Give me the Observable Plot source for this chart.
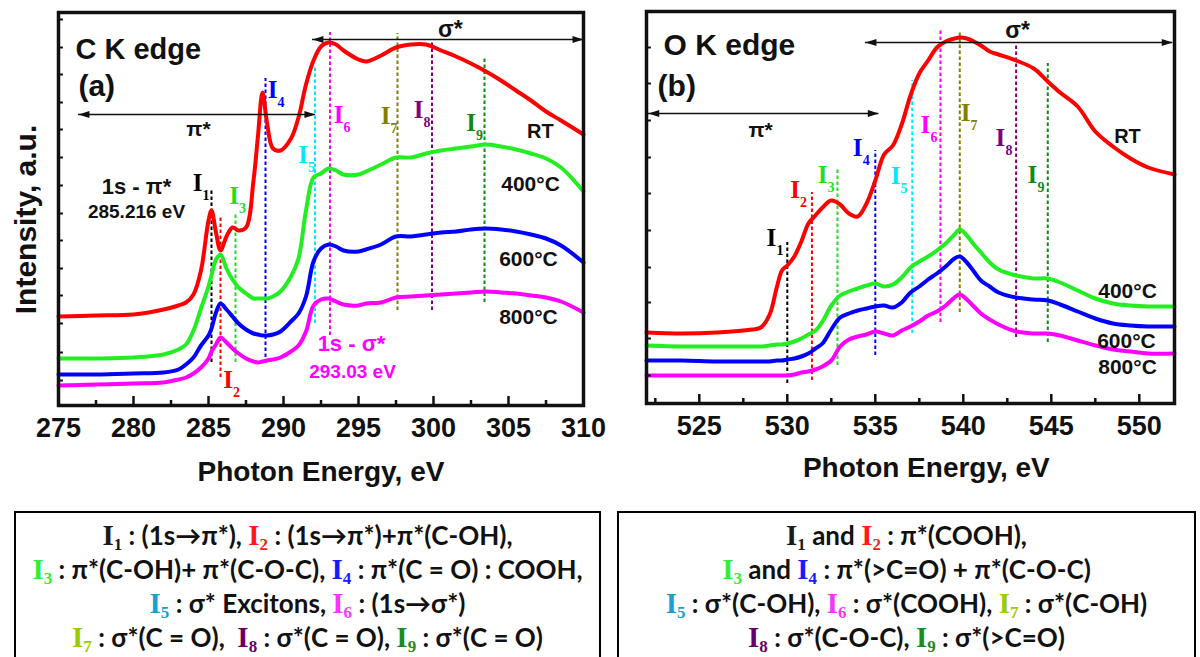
<!DOCTYPE html>
<html>
<head>
<meta charset="utf-8">
<script src="https://cdn.jsdelivr.net/npm/d3@7"></script>
<script src="https://cdn.jsdelivr.net/npm/@observablehq/plot@0.6"></script>
<style>
  body { margin: 0; background: #fff; }
  #fig { position: relative; width: 1200px; height: 657px; overflow: hidden; background: #fff; }
  .panel { position: absolute; top: 0; }
  .box {
    position: absolute; border: 2.5px solid #000; box-sizing: border-box;
    font-family: Lato, "Open Sans", sans-serif; font-weight: 700; font-size: 26px;
    color: #111; text-align: center; padding-top: 5px;
  }
  .box div { height: 34px; line-height: 34px; white-space: pre; }
  .I { font-family: "Liberation Serif", serif; font-weight: 700; font-size: 29px; line-height: 1; }
  .I sub { font-size: 17px; vertical-align: -5px; line-height: 0; }
</style>
</head>
<body>
<div id="fig">
  <div id="panelC" class="panel" style="left:0"></div>
  <div id="panelO" class="panel" style="left:600px"></div>
  <div id="legendC" class="box" style="left:14px;top:511px;width:587px;height:160px"></div>
  <div id="legendO" class="box" style="left:617px;top:511px;width:579px;height:160px"></div>
</div>
<script>
// ---------- C K edge spectra (photon energy, eV / intensity, a.u.) ----------
const cEnergy = [275, 277.5, 280, 282, 283, 283.5, 284, 284.5, 285, 285.2, 285.5, 285.8, 286.2, 286.6, 287, 287.5,
  288, 288.3, 288.6, 288.9, 289.3, 289.8, 290.5, 291, 291.5, 292, 292.5, 293, 293.5, 294, 295, 295.5, 296.5, 297.5,
  298.5, 299.5, 300.5, 301.5, 302.5, 303.5, 304.5, 305.5, 306.5, 307.5, 308.5, 310];
const cRT = [89, 90, 91, 96, 100, 103, 111, 135, 185, 195, 173, 155, 169, 178, 175, 178, 225, 270, 313, 283,
  257, 255, 267, 288, 321, 345, 359, 363, 361, 355, 346, 344, 350, 358, 361, 361, 355, 349, 342, 334, 325, 315, 305, 294, 285, 271];
const c400 = [47, 47, 48, 51, 56, 61, 75, 97, 119, 130, 146, 151, 137, 126, 118, 112, 107, 107, 107, 107,
  109, 114, 129, 147, 195, 228, 232, 237, 235, 231, 231, 234, 241, 248, 248, 252, 255, 257, 259, 261, 259, 256, 252, 247, 238, 214];
const c600 = [31, 31, 32, 33, 36, 41, 48, 60, 70, 77, 93, 102, 96, 89, 82, 76, 72, 71, 70, 70,
  71, 74, 84, 92, 109, 144, 157, 161, 159, 155, 154, 156, 161, 169, 169, 171, 173, 174, 176, 177, 176, 174, 171, 167, 160, 143];
const c800 = [20, 21, 22, 23, 26, 28, 32, 38, 47, 54, 61, 68, 63, 57, 52, 47, 44, 43, 44, 45,
  46, 48, 54, 60, 74, 100, 106, 107, 104, 101, 100, 102, 103, 108, 109, 110, 111, 112, 113, 114, 113, 112, 110, 108, 104, 93];

// ---------- O K edge spectra ----------
const oEnergy = [522, 524, 526, 528, 528.5, 529, 529.4, 529.7, 530, 530.4, 530.8, 531.2, 531.6, 532, 532.5, 533,
  533.5, 534, 534.5, 535, 535.5, 536, 536.5, 537, 537.5, 538, 538.5, 539, 539.5, 539.8, 540.2, 540.6, 541, 541.5,
  542, 543, 544, 544.8, 545.5, 546.5, 547.5, 548.5, 549.5, 550.5, 552];
const oRT = [71, 70, 71, 74, 76, 89, 116, 133, 138, 147, 162, 180, 188, 196, 203, 199, 190, 187, 200, 223,
  249, 258, 279, 308, 330, 343, 356, 362, 365, 366, 365, 362, 358, 352, 349, 343, 335, 322, 311, 297, 272, 257, 245, 236, 229];
const o400 = [58, 57, 57, 57, 57, 58, 59, 59, 60, 62, 65, 69, 73, 82, 98, 108, 112, 115, 118, 120,
  117, 119, 126, 136, 142, 147, 153, 160, 169, 174, 168, 159, 151, 141, 134, 128, 125, 125, 121, 113, 105, 100, 98, 97, 97];
const o600 = [43, 43, 42, 42, 42, 42, 43, 43, 44, 45, 47, 50, 55, 60, 74, 86, 90, 93, 95, 97,
  98, 96, 101, 111, 117, 124, 130, 137, 145, 147, 141, 132, 123, 117, 111, 106, 104, 103, 99, 92, 85, 80, 78, 77, 77];
const o800 = [28, 28, 28, 28, 28, 28, 28, 28, 28, 29, 31, 32, 34, 37, 43, 57, 64, 67, 69, 72,
  70, 68, 73, 77, 82, 88, 92, 98, 106, 109, 104, 97, 90, 84, 79, 72, 70, 70, 68, 63, 58, 54, 52, 50, 50];

const sampleNames = ["RT", "400°C", "600°C", "800°C"];

// ---------- assigned features I1..I9 (energy, and extent of the marker line) ----------
const cPeaks = [285.2, 285.8, 286.8, 288.8, 292.1, 293.1, 297.6, 299.9, 303.4];
const cPeakLo = [43, 28, 43, 42, 82, 70, 95, 95, 103];
const cPeakHi = [217, 188, 192, 327, 340, 373, 372, 365, 348];
const oPeaks = [530.0, 531.4, 532.85, 535.0, 537.1, 538.7, 539.8, 543.0, 544.8];
const oPeakLo = [20, 23, 38, 48, 70, 81, 91, 66, 61];
const oPeakHi = [161, 211, 235, 253, 323, 374, 373, 360, 340];

// axis ticks
const cTicks = [275, 280, 285, 290, 295, 300, 305, 310];
const cMinor = [277.5, 282.5, 287.5, 292.5, 297.5, 302.5, 307.5];
const oTicks = [525, 530, 535, 540, 545, 550];
const oMinor = [522.5, 527.5, 532.5, 537.5, 542.5, 547.5];
const cYTicks = [25, 53, 82, 110, 137, 165, 192, 220, 248, 276, 303, 331, 358, 386];
const oYTicks = [28, 65, 101, 136, 173, 210, 246, 283, 320, 356];

// ---------- styling ----------
const seriesColors = ["#ff0000", "#22ee22", "#0000ff", "#ff00ff"];
const peakColors = ["#000000", "#ff0000", "#1fe01f", "#0000ff", "#00e8ff", "#ff00ff", "#808000", "#800080", "#108a10"];
const legendColors = ["#1a1a1a", "#ff1a1a", "#33ee33", "#1a1aff", "#1a9fd0", "#ff33ff", "#99cc00", "#660066", "#1f8a1f"];
const SANS = "Liberation Sans, Arial, sans-serif";
const SERIF = "Liberation Serif, Times New Roman, serif";

// filled arrowheads with the tip at the anchor point
const headRight = { draw(c) { c.moveTo(0, 0); c.lineTo(-11, -3.5); c.lineTo(-11, 3.5); c.closePath(); } };
const headLeft = { draw(c) { c.moveTo(0, 0); c.lineTo(11, -3.5); c.lineTo(11, 3.5); c.closePath(); } };

function drawPanel(cfg) {
  const marks = [];
  // feature marker lines
  cfg.peaks.forEach((E, i) => {
    marks.push(Plot.ruleX([{E, lo: cfg.lo[i], hi: cfg.hi[i]}],
      {x: "E", y1: "lo", y2: "hi", stroke: peakColors[i], strokeWidth: 2, strokeDasharray: "3.5,2.5"}));
  });
  // spectra
  cfg.series.forEach((values, k) => {
    const rows = cfg.energy.map((E, i) => ({E, v: values[i], sample: sampleNames[k]}));
    marks.push(Plot.line(rows, {x: "E", y: "v", stroke: seriesColors[k], strokeWidth: 4, curve: "catmull-rom"}));
  });
  // inward ticks
  marks.push(Plot.ruleY(cfg.yTicks, {y: d => d, x1: cfg.domain[0], x2: cfg.domain[0] + cfg.yTickLen, strokeWidth: 2}));
  marks.push(Plot.ruleX(cfg.ticks, {x: d => d, y1: 0, y2: 9, strokeWidth: 2.5}));
  marks.push(Plot.ruleX(cfg.minor, {x: d => d, y1: 0, y2: 5, strokeWidth: 2.5}));
  marks.push(Plot.axisX({ticks: cfg.ticks, tickSize: 0, tickPadding: 12, fontSize: 27, fontWeight: "bold", fontFamily: SANS}));
  // range arrows
  cfg.arrows.forEach(a => {
    marks.push(Plot.ruleY([a], {y: "y", x1: "x1", x2: "x2", stroke: "#111", strokeWidth: 1.6}));
    marks.push(Plot.dot([a], {x: "x1", y: "y", symbol: headLeft, fill: "#111", stroke: "none", r: 4}));
    marks.push(Plot.dot([a], {x: "x2", y: "y", symbol: headRight, fill: "#111", stroke: "none", r: 4}));
  });
  // feature labels I with subscript
  cfg.peaks.forEach((E, i) => {
    const d = [{x: cfg.labelE[i], y: cfg.labelV[i]}];
    marks.push(Plot.text(d, {x: "x", y: "y", text: () => "I", fill: peakColors[i], fontFamily: SERIF,
      fontWeight: "bold", fontSize: 25, textAnchor: "middle", lineAnchor: "bottom"}));
    marks.push(Plot.text(d, {x: "x", y: "y", text: () => String(i + 1), fill: peakColors[i], fontFamily: SERIF,
      fontWeight: "bold", fontSize: 14, textAnchor: "start", lineAnchor: "bottom", dx: 5, dy: 9}));
  });
  // other annotations
  cfg.notes.forEach(n => {
    marks.push(Plot.text([n], {x: "x", y: "y", text: "text", fill: n.color || "#111", fontSize: n.size,
      fontFamily: SANS, fontWeight: "bold", textAnchor: n.anchor || "middle", lineAnchor: "bottom",
      rotate: n.rotate || 0}));
  });
  marks.push(Plot.frame({strokeWidth: 3.5}));

  return Plot.plot({
    width: 600, height: 500,
    marginLeft: cfg.margin[0], marginRight: cfg.margin[1], marginTop: cfg.margin[2], marginBottom: cfg.margin[3],
    x: {domain: cfg.domain},
    y: {domain: [0, cfg.yMax], axis: null},
    style: {fontFamily: SANS, fontWeight: "bold", background: "transparent", overflow: "visible", color: "#111"},
    marks
  });
}

document.getElementById("panelC").append(drawPanel({
  energy: cEnergy, series: [cRT, c400, c600, c800],
  peaks: cPeaks, lo: cPeakLo, hi: cPeakHi,
  labelE: [284.27, 286.30, 286.70, 289.27, 291.30, 293.67, 296.80, 299.00, 302.50],
  labelV: [215, 18, 202, 308, 243, 283, 282, 288, 275],
  domain: [275, 310], yMax: 393, margin: [58, 17, 12, 95],
  ticks: cTicks, minor: cMinor, yTicks: cYTicks, yTickLen: 0.33,
  arrows: [{y: 291, x1: 276.33, x2: 292.13}, {y: 366, x1: 291.93, x2: 310}],
  notes: [
    {x: 276.13, y: 347, text: "C K edge", size: 29, anchor: "start"},
    {x: 276.33, y: 310, text: "(a)", size: 30, anchor: "start"},
    {x: 284.33, y: 270, text: "π*", size: 21},
    {x: 301.13, y: 369, text: "σ*", size: 23},
    {x: 307.13, y: 268, text: "RT", size: 20},
    {x: 306.47, y: 215, text: "400°C", size: 21},
    {x: 306.33, y: 140, text: "600°C", size: 21},
    {x: 306.33, y: 82, text: "800°C", size: 21},
    {x: 280.2, y: 212, text: "1s - π*", size: 22},
    {x: 280.2, y: 188, text: "285.216 eV", size: 19},
    {x: 294.53, y: 55, text: "1s - σ*", size: 22, color: "#ff00ff"},
    {x: 294.6, y: 28, text: "293.03 eV", size: 19, color: "#ff00ff"},
    {x: 292.5, y: -75, text: "Photon Energy, eV", size: 28},
    {x: 273.47, y: 186, text: "Intensity, a.u.", size: 30, rotate: -90}
  ]
}));

document.getElementById("panelO").append(drawPanel({
  energy: oEnergy, series: [oRT, o400, o600, o800],
  peaks: oPeaks, lo: oPeakLo, hi: oPeakHi,
  labelE: [529.10, 530.44, 532.0, 534.0, 536.15, 537.85, 540.13, 542.11, 543.93],
  labelV: [158, 206, 221, 248, 220, 271, 283, 258, 221],
  domain: [522, 552], yMax: 392, margin: [46, 26, 11, 97],
  ticks: oTicks, minor: oMinor, yTicks: oYTicks, yTickLen: 0.28,
  arrows: [{y: 290, x1: 522.1, x2: 535.2}, {y: 361, x1: 534.44, x2: 551.9}],
  notes: [
    {x: 522.97, y: 349, text: "O K edge", size: 30, anchor: "start"},
    {x: 522.63, y: 308, text: "(b)", size: 30, anchor: "start"},
    {x: 528.48, y: 267, text: "π*", size: 21},
    {x: 543.08, y: 366, text: "σ*", size: 23},
    {x: 549.33, y: 261, text: "RT", size: 20},
    {x: 549.33, y: 106, text: "400°C", size: 21},
    {x: 549.27, y: 56, text: "600°C", size: 21},
    {x: 549.33, y: 30, text: "800°C", size: 21},
    {x: 537.9, y: -73, text: "Photon Energy, eV", size: 28}
  ]
}));

// ---------- assignment boxes ----------
const legendCLines = [
  [[1], " : (1s→π*), ", [2], " : (1s→π*)+π*(C-OH),"],
  [[3], " : π*(C-OH)+ π*(C-O-C), ", [4], " : π*(C = O) : COOH,"],
  [[5], " : σ* Excitons, ", [6], " : (1s→σ*)"],
  [[7], " : σ*(C = O),  ", [8], " : σ*(C = O), ", [9], " : σ*(C = O)"]
];
const legendOLines = [
  [[1], " and ", [2], " : π*(COOH),"],
  [[3], " and ", [4], " : π*(>C=O) + π*(C-O-C)"],
  [[5], " : σ*(C-OH), ", [6], " : σ*(COOH), ", [7], " : σ*(C-OH)"],
  [[8], " : σ*(C-O-C), ", [9], " : σ*(>C=O)"]
];
function fillLegend(id, lines) {
  const box = document.getElementById(id);
  lines.forEach(parts => {
    const row = document.createElement("div");
    parts.forEach(p => {
      if (Array.isArray(p)) {
        const n = p[0];
        const s = document.createElement("span");
        s.className = "I";
        s.style.color = legendColors[n - 1];
        s.append("I");
        const sub = document.createElement("sub");
        sub.textContent = String(n);
        s.append(sub);
        row.append(s);
      } else {
        row.append(p);
      }
    });
    box.append(row);
  });
}
fillLegend("legendC", legendCLines);
fillLegend("legendO", legendOLines);
</script>
</body>
</html>
